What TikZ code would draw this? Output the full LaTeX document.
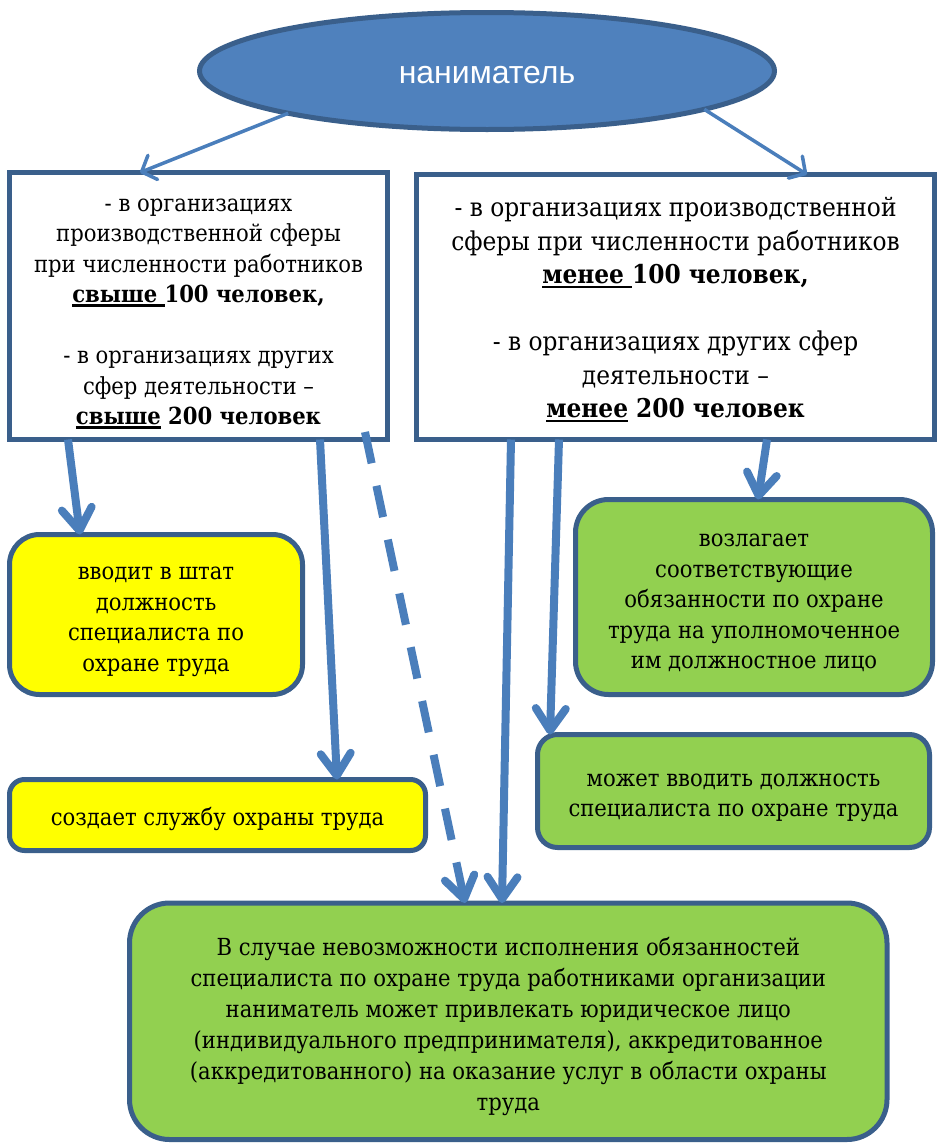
\documentclass[tikz,border=0pt]{standalone}
\usepackage{fontspec}
\IfFontExistsTF{DejaVu Serif Condensed}{%
  \setmainfont{DejaVu Serif Condensed}\newfontfamily\serf{DejaVu Serif Condensed}}{%
  \setmainfont{DejaVu Serif}[FakeStretch=0.9]\newfontfamily\serf{DejaVu Serif}[FakeStretch=0.9]}
\newfontfamily\sansf{Liberation Sans}
\usetikzlibrary{arrows.meta,shapes.geometric}
\definecolor{bordc}{HTML}{3A5F8B}
\definecolor{ellf}{HTML}{4F81BD}
\definecolor{arrc}{HTML}{4A7EBB}
\definecolor{yel}{HTML}{FFFF00}
\definecolor{grn}{HTML}{92D050}
\newsavebox\ulbox
\newcommand\myul[1]{\leavevmode\sbox\ulbox{#1}\rlap{\rule[-4pt]{\wd\ulbox}{2.4pt}}\usebox\ulbox}
\newcommand\tb[2]{\raisebox{-#1}[0pt][0pt]{\begin{tabular}{@{}c@{}}#2\end{tabular}}}
\begin{document}
\begin{tikzpicture}[x=1pt,y=-1pt,
  box/.style={draw=bordc,line width=5pt,outer sep=0pt,inner sep=0pt,font=\serf\fontsize{23.5}{30.5}\selectfont},
  thinarr/.style={draw=arrc,line width=3.5pt,-{Straight Barb[length=12pt,width=26pt,round]}},
  fatarr/.style={draw=arrc,line width=8pt,-{Straight Barb[length=22pt,width=30pt,round]}}]
\useasboundingbox (0,0) rectangle (937,1143);
\node[ellipse,draw=bordc,fill=ellf,line width=5pt,minimum width=575pt,minimum height=117pt,inner sep=0pt,outer sep=0pt,text=white,font=\sansf\fontsize{32}{36}\selectfont] (E) at (487,71) {\raisebox{-12.8pt}[0pt][0pt]{наниматель}};
\node[box,minimum width=378pt,minimum height=267pt] (L) at (198.5,306) {\tb{12pt}{- в организациях\\производственной сферы\\при численности работников\\\textbf{\myul{свыше }100 человек,}\\[30.5pt]- в организациях других\\сфер деятельности –\\\textbf{\myul{свыше} 200 человек}}};
\node[box,font=\serf\fontsize{25.9}{33.5}\selectfont,minimum width=518pt,minimum height=265pt] (R) at (675.5,307) {\tb{10pt}{- в организациях производственной\\сферы при численности работников\\\textbf{\myul{менее }100 человек,}\\[33.5pt]- в организациях других сфер\\деятельности –\\\textbf{\myul{менее} 200 человек}}};
\node[box,fill=yel,rounded corners=30pt,minimum width=293pt,minimum height=160pt] (Y1) at (156,614.5) {\tb{11pt}{вводит в штат\\должность\\специалиста по\\охране труда}};
\node[box,fill=yel,rounded corners=15pt,minimum width=416pt,minimum height=71pt] (Y2) at (217.5,815) {\tb{10.2pt}{создает службу охраны труда}};
\node[box,fill=grn,rounded corners=33pt,minimum width=357pt,minimum height=195pt] (G1) at (754,597) {\tb{11pt}{возлагает\\соответствующие\\обязанности по охране\\труда на уполномоченное\\им должностное лицо}};
\node[box,fill=grn,rounded corners=20pt,minimum width=392pt,minimum height=113pt] (G2) at (733.5,791) {\tb{10.4pt}{может вводить должность\\специалиста по охране труда}};
\node[box,fill=grn,rounded corners=40pt,minimum width=757.5pt,minimum height=236.5pt,font=\serf\fontsize{23.5}{31}\selectfont] (B) at (508.25,1021.25) {\tb{11.8pt}{В случае невозможности исполнения обязанностей\\специалиста по охране труда работниками организации\\наниматель может привлекать юридическое лицо\\(индивидуального предпринимателя), аккредитованное\\(аккредитованного) на оказание услуг в области охраны\\труда}};
\draw[thinarr] (E.192) -- ([xshift=130.5pt]L.north west);
\draw[thinarr] (E.-10.6) -- ([xshift=390.5pt]R.north west);
\draw[fatarr] ([xshift=58.5pt]L.south west) -- ([xshift=70.5pt]Y1.north west);
\draw[fatarr] ([xshift=310.5pt]L.south west) -- ([xshift=327.5pt]Y2.north west);
\draw[fatarr,dash pattern=on 32pt off 23pt] ([xshift=355.5pt,yshift=7.5pt]L.south west) -- ([xshift=335.5pt]B.north west);
\draw[fatarr] ([xshift=94.5pt]R.south west) -- ([xshift=372.5pt]B.north west);
\draw[fatarr] ([xshift=142.5pt]R.south west) -- ([xshift=12.5pt]G2.north west);
\draw[fatarr] ([xshift=350.5pt]R.south west) -- ([xshift=182.5pt]G1.north west);
\end{tikzpicture}
\end{document}
